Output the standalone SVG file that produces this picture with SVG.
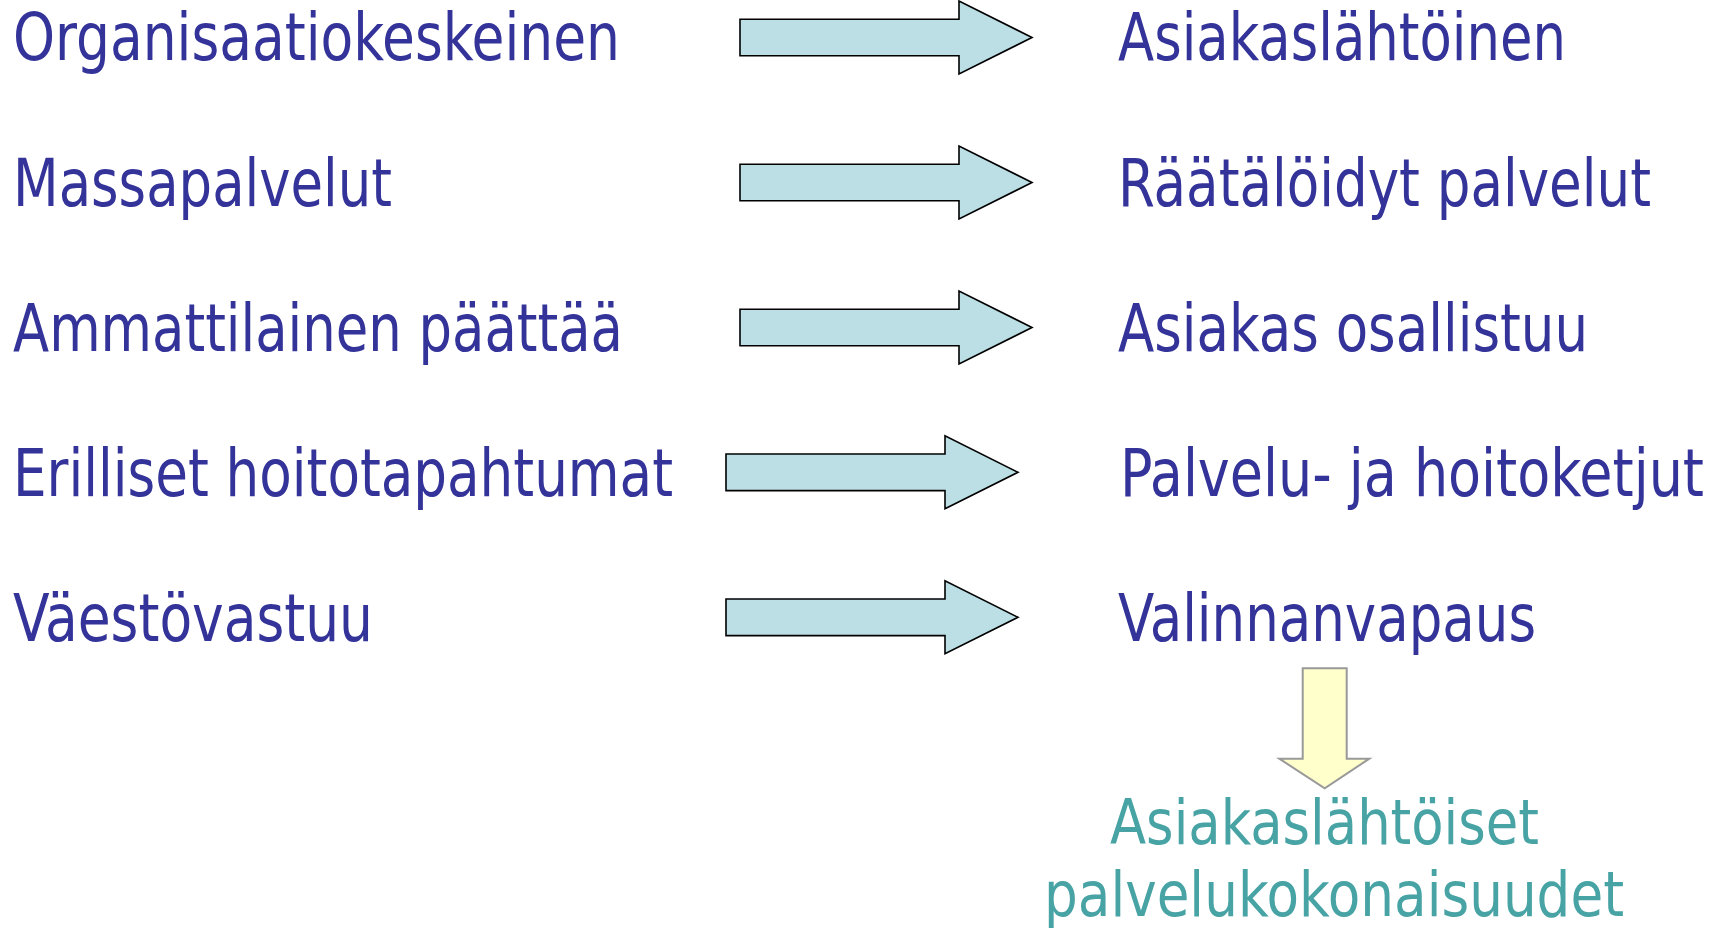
<svg xmlns="http://www.w3.org/2000/svg" width="1726" height="928" viewBox="0 0 1726 928">
<style>
.t{font-family:"DejaVu Sans Condensed","DejaVu Sans",sans-serif;font-size:65px;fill:#333399}
.g{font-family:"DejaVu Sans Condensed","DejaVu Sans",sans-serif;font-size:63px;fill:#48A3A5}
.ar{fill:#BBDFE4;stroke:#000;stroke-width:1.6;stroke-linejoin:miter}
.dn{fill:#FFFFCC;stroke:#999;stroke-width:2}
</style>
<defs>
<path id="rarrow" d="M0,-18.3 L219,-18.3 L219,-36.5 L292,0 L219,36.5 L219,18.3 L0,18.3 Z"/>
</defs>
<g id="left">
<text id="l1" class="t" x="13" y="60" textLength="607" lengthAdjust="spacingAndGlyphs">Organisaatiokeskeinen</text>
<text id="l2" class="t" x="13" y="206" textLength="379" lengthAdjust="spacingAndGlyphs">Massapalvelut</text>
<text id="l3" class="t" x="13" y="351" textLength="610" lengthAdjust="spacingAndGlyphs">Ammattilainen päättää</text>
<text id="l4" class="t" x="13" y="496" textLength="660" lengthAdjust="spacingAndGlyphs">Erilliset hoitotapahtumat</text>
<text id="l5" class="t" x="13" y="641" textLength="360" lengthAdjust="spacingAndGlyphs">Väestövastuu</text>
</g>
<g id="right">
<text id="r1" class="t" x="1118" y="60" textLength="448" lengthAdjust="spacingAndGlyphs">Asiakaslähtöinen</text>
<text id="r2" class="t" x="1118" y="206" textLength="533" lengthAdjust="spacingAndGlyphs">Räätälöidyt palvelut</text>
<text id="r3" class="t" x="1118" y="351" textLength="470" lengthAdjust="spacingAndGlyphs">Asiakas osallistuu</text>
<text id="r4" class="t" x="1120" y="496" textLength="584" lengthAdjust="spacingAndGlyphs">Palvelu- ja hoitoketjut</text>
<text id="r5" class="t" x="1118" y="641" textLength="418" lengthAdjust="spacingAndGlyphs">Valinnanvapaus</text>
</g>
<g id="connectors">
<use href="#rarrow" class="ar" transform="translate(740,37.5)"/>
<use href="#rarrow" class="ar" transform="translate(740,182.5)"/>
<use href="#rarrow" class="ar" transform="translate(740,327.5)"/>
<use href="#rarrow" class="ar" transform="translate(726,472.3)"/>
<use href="#rarrow" class="ar" transform="translate(726,617.3)"/>
<path class="dn" d="M1302.7,668.3 L1346.7,668.3 L1346.7,758.7 L1369.3,758.7 L1324.7,788.3 L1279.3,758.7 L1302.7,758.7 Z"/>
</g>
<g id="result">
<text class="g" x="1110" y="844" textLength="429" lengthAdjust="spacingAndGlyphs">Asiakaslähtöiset</text>
<text class="g" x="1044" y="916" textLength="580" lengthAdjust="spacingAndGlyphs">palvelukokonaisuudet</text>
</g>
</svg>
